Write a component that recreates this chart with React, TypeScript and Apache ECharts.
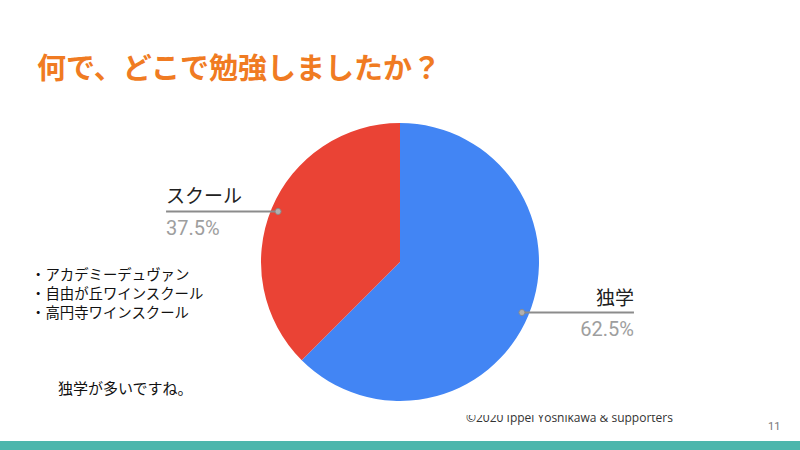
import React, { useEffect, useRef } from "react";
import * as echarts from "echarts";

const categories = ["独学", "スクール"];
const shares = [62.5, 37.5];
const sliceColors = ["#4285F4", "#EA4335"];
const titleText = "何で、どこで勉強しましたか？";
const bulletLines = ["・アカデミーデュヴァン", "・自由が丘ワインスクール", "・高円寺ワインスクール"];
const noteText = "独学が多いですね。";
const footerText = "©2020 Ippei Yoshikawa & supporters";
const pageNumber = "11";

const CX = 400;
const CY = 262;
const R = 139;
const DOT_R = 132;
const LINE_LEN = 112;

export default function App() {
  const ref = useRef<HTMLDivElement>(null);
  useEffect(() => {
    if (!ref.current) return;
    const chart = echarts.init(ref.current, undefined, { renderer: "svg" });
    const total = shares.reduce((a, b) => a + b, 0);
    let acc = 0;
    const dots: any[] = [];
    shares.forEach((v) => {
      const mid = ((acc + v / 2) / total) * Math.PI * 2;
      acc += v;
      dots.push({
        type: "circle",
        shape: { cx: CX + Math.sin(mid) * DOT_R, cy: CY - Math.cos(mid) * DOT_R, r: 3 },
        style: { fill: "#b0b0b0", stroke: "#8a8a8a", lineWidth: 1 },
        z: 100,
      });
    });
    const data = categories.map((c, i) => ({ name: c, value: shares[i] }));
    chart.setOption({
      animation: false,
      backgroundColor: "#ffffff",
      series: [
        {
          type: "pie",
          center: [CX, CY],
          radius: [0, R],
          startAngle: 90,
          clockwise: true,
          silent: true,
          data: data.map((d, i) => ({ ...d, itemStyle: { color: sliceColors[i] } })),
          label: { show: false },
          labelLine: { show: false },
        },
        {
          type: "pie",
          center: [CX, CY],
          radius: [0, DOT_R],
          startAngle: 90,
          clockwise: true,
          silent: true,
          z: 5,
          data: data.map((d) => ({ ...d, itemStyle: { color: "rgba(0,0,0,0)" } })),
          label: {
            show: true,
            position: "outside",
            formatter: (p: any) => `{n|${p.name}}\n{p|${p.percent.toFixed(1)}%}`,
            rich: {
              n: { fontSize: 19, color: "#212121", lineHeight: 33, fontFamily: "Noto Sans CJK JP" },
              p: { fontSize: 20, color: "#9e9e9e", lineHeight: 33, fontFamily: "Roboto" },
            },
          },
          labelLine: {
            show: true,
            length: 0,
            length2: LINE_LEN,
            lineStyle: { color: "#8c8c8c", width: 2 },
          },
          labelLayout: (params: any) => {
            const pts = params.labelLinePoints;
            if (!pts) return {};
            const p0 = pts[0];
            const right = p0[0] > CX;
            const end = p0[0] + (right ? LINE_LEN : -LINE_LEN);
            return {
              x: end,
              y: p0[1],
              align: right ? "right" : "left",
              verticalAlign: "middle",
              labelLinePoints: [p0, p0, [end, p0[1]]],
            };
          },
        },
      ],
      graphic: [
        {
          type: "text",
          left: 37,
          top: 51,
          style: {
            text: titleText,
            fontSize: 29,
            fontWeight: "bold",
            fill: "#F07B22",
            fontFamily: "Noto Sans CJK JP",
          },
        },
        ...bulletLines.map((t, i) => ({
          type: "text",
          x: 31,
          y: 273 + i * 19,
          style: {
            text: t,
            fontSize: 14.4,
            fill: "#111",
            fontFamily: "Noto Sans CJK JP",
            verticalAlign: "middle",
          },
        })),
        {
          type: "text",
          x: 58,
          y: 387,
          style: { text: noteText, fontSize: 15, fill: "#111", fontFamily: "Noto Sans CJK JP", verticalAlign: "middle" },
        },
        {
          type: "text",
          x: 466,
          y: 417,
          style: { text: footerText, fontSize: 12, fill: "#333", fontFamily: "Open Sans", verticalAlign: "middle" },
        },
        {
          type: "rect",
          shape: { x: 455, y: 398, width: 240, height: 17 },
          style: { fill: "#ffffff" },
          z: 50,
        },
        {
          type: "text",
          x: 768,
          y: 426,
          style: { text: pageNumber, fontSize: 11, fill: "#777", fontFamily: "Roboto", verticalAlign: "middle" },
        },
        {
          type: "rect",
          shape: { x: 0, y: 441, width: 800, height: 9 },
          style: { fill: "#4DB6AC" },
        },
        ...dots,
      ],
    });
    return () => chart.dispose();
  }, []);
  return (
    <div
      ref={ref}
      style={{ position: "absolute", left: 0, top: 0, width: 800, height: 450, background: "#fff" }}
    />
  );
}
